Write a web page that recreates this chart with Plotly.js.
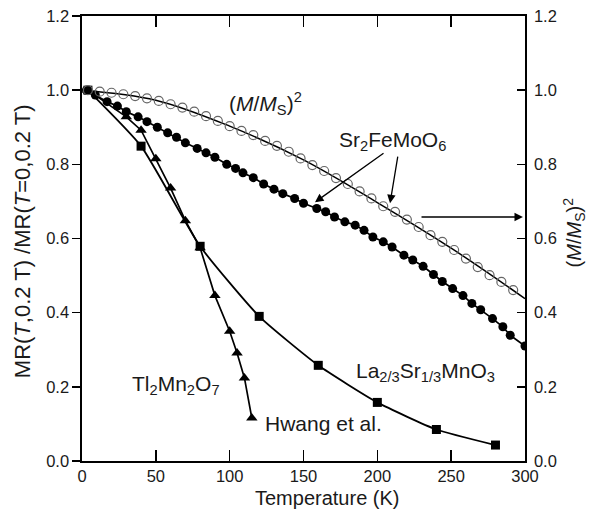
<!DOCTYPE html>
<html>
<head>
<meta charset="utf-8">
<script src="https://cdn.plot.ly/plotly-3.0.1.min.js"></script>
<style>html,body{margin:0;padding:0;background:#fff;}#chart{width:590px;height:514px;}</style>
</head>
<body>
<div id="chart"></div>
<script>
// Sr2FeMoO6 MR(T,0.2T)/MR(T=0,0.2T) (filled circles)
const sfmoT = [3,9,17,24,30,38,44,51,58,64,70,78,84,90,98,104,109,116,123,130,136,144,150,159,165,171,178,185,191,197,204,210,218,224,231,238,244,251,258,264,270,278,285,290,300];
const sfmoV = [1.0,0.987,0.969,0.957,0.942,0.928,0.915,0.900,0.885,0.873,0.858,0.843,0.831,0.819,0.800,0.789,0.777,0.764,0.747,0.733,0.721,0.708,0.695,0.681,0.672,0.658,0.645,0.636,0.622,0.604,0.591,0.577,0.555,0.542,0.525,0.503,0.484,0.465,0.446,0.425,0.408,0.384,0.362,0.339,0.310];

// (M/Ms)^2 (open circles) and its fitted curve
const msT = [4,12,20,28,36,44,52,60,68,76,84,92,100,108,116,124,132,140,148,156,164,172,180,188,196,204,212,220,228,236,244,252,260,268,276,284,292];
const msV = [1.0,0.996,0.993,0.989,0.984,0.978,0.971,0.962,0.953,0.942,0.930,0.917,0.903,0.890,0.879,0.863,0.850,0.834,0.816,0.798,0.782,0.763,0.747,0.727,0.708,0.687,0.672,0.651,0.631,0.609,0.591,0.569,0.546,0.523,0.501,0.483,0.461];
const fitT = [0,50,100,150,200,250,300];
const fitV = [1.0,0.973,0.903,0.812,0.697,0.574,0.438];

// La2/3Sr1/3MnO3 (squares)
const lsmoT = [4,40,80,120,160,200,240,280];
const lsmoV = [1.0,0.849,0.579,0.390,0.258,0.158,0.085,0.043];

// Tl2Mn2O7, Hwang et al. (triangles)
const tmoT = [4,30,40,50,60,70,80,90,100,105,110,115];
const tmoV = [1.0,0.928,0.892,0.815,0.736,0.648,0.575,0.446,0.350,0.291,0.224,0.116];

const xTicks = [0,50,100,150,200,250,300];
const yTicks = [0,0.2,0.4,0.6,0.8,1.0,1.2];

const FONT = 'Liberation Sans, Arial, sans-serif';
const INK = '#1a1a1a';

const traces = [
  {x: fitT, y: fitV, yaxis:'y2', mode:'lines', line:{color:'#000', width:1.5, shape:'spline'}, hoverinfo:'skip'},
  {x: msT, y: msV, yaxis:'y2', mode:'markers', marker:{symbol:'circle-open', size:9, color:'#666', line:{width:1.2}}},
  {x: sfmoT, y: sfmoV, mode:'lines+markers', line:{color:'#000', width:1.7}, marker:{symbol:'circle', size:9, color:'#000'}},
  {x: lsmoT, y: lsmoV, mode:'lines+markers', line:{color:'#000', width:1.8, shape:'spline', smoothing:0.5}, marker:{symbol:'square', size:9, color:'#000'}},
  {x: tmoT, y: tmoV, mode:'lines+markers', line:{color:'#000', width:1.7}, marker:{symbol:'triangle-up', size:10, color:'#000'}}
];

function arrow(x, y, ax, ay) {
  return {x:x, y:y, ax:ax, ay:ay, xref:'x', yref:'y', axref:'x', ayref:'y', text:'', showarrow:true,
          arrowhead:2, arrowsize:1.3, arrowwidth:1.3, arrowcolor:'#000', standoff:0, startstandoff:0};
}

const annFont = {family: FONT, size: 21, color: INK};

const layout = {
  width: 590, height: 514,
  margin: {l: 82, r: 65, t: 16, b: 53},
  paper_bgcolor: '#fff', plot_bgcolor: '#fff',
  showlegend: false,
  font: {family: FONT, color: INK},
  xaxis: {
    range: [0, 300], tickvals: xTicks, ticktext: xTicks.map(String),
    ticks: 'inside', ticklen: 11, tickwidth: 1.5, tickcolor: '#000',
    showline: true, linecolor: '#000', linewidth: 1.6, mirror: 'ticks',
    showgrid: false, zeroline: false,
    tickfont: {family: FONT, size: 16.5, color: INK}
  },
  yaxis: {
    range: [0, 1.2], tickvals: yTicks, tickformat: '.1f',
    ticks: 'outside', ticklen: 8, tickwidth: 1.5, tickcolor: '#000',
    showline: true, linecolor: '#000', linewidth: 1.6,
    showgrid: false, zeroline: false,
    tickfont: {family: FONT, size: 16.5, color: INK}
  },
  yaxis2: {
    range: [0, 1.2], tickvals: yTicks, tickformat: '.1f', overlaying: 'y', side: 'right',
    ticks: 'inside', ticklen: 8, tickwidth: 1.5, tickcolor: '#000',
    showline: true, linecolor: '#000', linewidth: 1.6,
    showgrid: false, zeroline: false, ticklabelstandoff: 4,
    tickfont: {family: FONT, size: 16.5, color: INK}
  },
  annotations: [
    {xref:'paper', yref:'paper', x:0.5553, y:-0.084, text:'Temperature (K)', showarrow:false,
     xanchor:'center', yanchor:'middle', font:{family:FONT, size:20, color:INK}},
    {xref:'paper', yref:'paper', x:-0.1354, y:0.494, text:'MR(<i>T</i>,0.2 T) /MR(<i>T</i>=0,0.2 T)', showarrow:false,
     textangle:-90, xanchor:'center', yanchor:'middle', font:{family:FONT, size:22, color:INK}},
    {xref:'paper', yref:'paper', x:1.111, y:0.514, text:'(<i>M</i>/<i>M</i><sub>S</sub>)<sup>2</sup>', showarrow:false,
     textangle:-90, xanchor:'center', yanchor:'middle', font:{family:FONT, size:20, color:INK}},
    {x:124.6, y:0.965, xref:'x', yref:'y', text:'(<i>M</i>/<i>M</i><sub>S</sub>)<sup>2</sup>', showarrow:false, font:annFont},
    {x:210, y:0.862, xref:'x', yref:'y', text:'Sr<sub>2</sub>FeMoO<sub>6</sub>', showarrow:false, font:annFont},
    {x:63.7, y:0.204, xref:'x', yref:'y', text:'Tl<sub>2</sub>Mn<sub>2</sub>O<sub>7</sub>', showarrow:false, font:annFont},
    {x:122.6, y:0.102, xref:'x', yref:'y', text:'Hwang et al.', showarrow:false, xanchor:'left', font:annFont},
    {x:232.3, y:0.239, xref:'x', yref:'y', text:'La<sub>2/3</sub>Sr<sub>1/3</sub>MnO<sub>3</sub>', showarrow:false, font:annFont},
    arrow(157.8, 0.698, 205.2, 0.833),
    arrow(208.6, 0.695, 214.0, 0.825),
    arrow(298.6, 0.658, 228.9, 0.658)
  ]
};

Plotly.newPlot('chart', traces, layout, {displayModeBar: false, staticPlot: true});
</script>
</body>
</html>
